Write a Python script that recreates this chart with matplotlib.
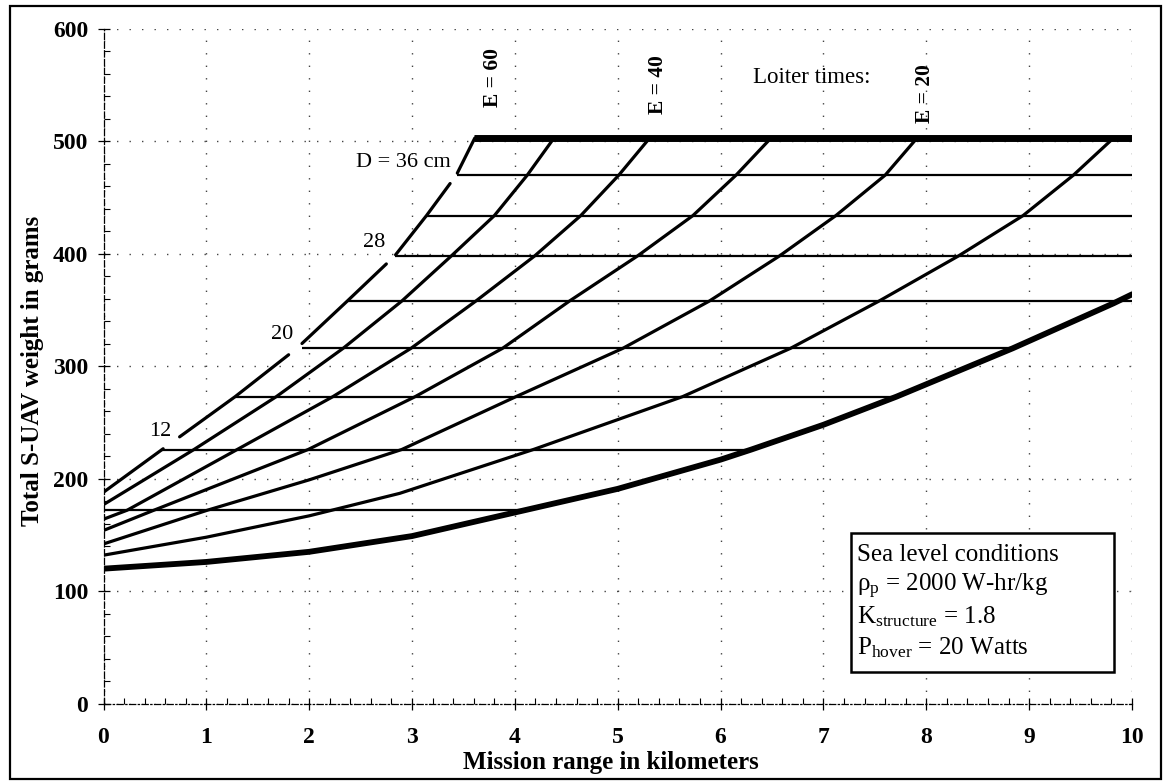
import numpy as np
import matplotlib
matplotlib.use("Agg")
import matplotlib.pyplot as plt
from matplotlib.patches import Rectangle
from matplotlib.ticker import MultipleLocator

plt.rcParams['font.family'] = ['Liberation Serif', 'DejaVu Serif']
plt.rcParams['mathtext.fontset'] = 'custom'
plt.rcParams['mathtext.rm'] = 'Liberation Serif'
plt.rcParams['mathtext.it'] = 'Liberation Serif:italic'

# ---- data ----
# loiter-time curves (E, minutes): mission range (km) vs total weight (g)
e60_range = [0.0, 0.57, 1.28, 1.88, 2.37, 2.83, 3.14, 3.43, 3.61]
e60_weight = [188, 226, 273, 316, 358, 398, 434, 470, 503]
e50_range = [0.0, 0.88, 1.68, 2.33, 2.90, 3.38, 3.80, 4.12, 4.38]
e50_weight = [177, 226, 273, 316, 358, 398, 434, 470, 503]
e40_range = [0.0, 0.23, 1.30, 2.23, 2.99, 3.62, 4.19, 4.64, 5.01, 5.31]
e40_weight = [164, 172, 226, 273, 316, 358, 398, 434, 470, 503]
e30_range = [0.0, 0.49, 1.99, 3.03, 3.88, 4.53, 5.19, 5.73, 6.15, 6.49]
e30_weight = [154, 172, 226, 273, 316, 358, 398, 434, 470, 503]
e20_range = [0.0, 1.01, 2.0, 2.90, 4.01, 5.05, 5.89, 6.57, 7.12, 7.60, 7.91]
e20_weight = [142, 172, 199, 226, 273, 316, 358, 398, 434, 470, 503]
e10_range = [0.0, 1.0, 2.0, 2.22, 2.88, 4.18, 5.63, 6.68, 7.54, 8.31, 8.94, 9.43, 9.82]
e10_weight = [132, 148, 167, 172, 187, 226, 273, 316, 358, 398, 434, 470, 503]
e0_range = [0.0, 1.0, 2.0, 3.0, 4.0, 5.0, 6.0, 6.3, 7.0, 7.71, 8.84, 9.82, 10.0]
e0_weight = [120, 126, 135, 149, 170, 191, 217, 226, 248, 273, 316, 356, 364]

# rotor-diameter lines (D, cm): constant weight between start and end range
d_weight = [172, 226, 273, 316, 358, 398, 434, 470]
d_start = [0.0, 0.57, 1.28, 1.93, 2.37, 2.83, 3.14, 3.44]
d_end = [4.08, 6.3, 7.71, 8.84, 10.0, 10.0, 10.0, 10.0]
cap_weight = 503
cap_start = 3.60
cap_end = 10.0

# label text
d_labels = ["12", "20", "28", "D = 36 cm"]
e_labels = ["E = 60", "E = 40", "E = 20"]
box_lines = ["Sea level conditions",
             "\u03c1$_{\\mathrm{p}}$ = 2000 W-hr/kg",
             "K$_{\\mathrm{structure}}$ = 1.8",
             "P$_{\\mathrm{hover}}$ = 20 Watts"]
x_ticks = list(range(0, 11))
y_ticks = list(range(0, 601, 100))

# ---- figure ----
W, H = 1163, 782
fig = plt.figure(figsize=(W / 100, H / 100), dpi=100)
x0, x1 = 103.5, 1132.0
y0, y1 = 703.6, 29.0
ax = fig.add_axes([x0 / W, 1 - y0 / H, (x1 - x0) / W, (y0 - y1) / H])
ax.set_xlim(0, 10)
ax.set_ylim(0, 600)

# grid & spines
ax.set_axisbelow(True)
ax.grid(True, which='major', linestyle=(0, (1, 8)), color='#444444', lw=1.0)
for s in ('top', 'right'):
    ax.spines[s].set_visible(False)
ax.spines['left'].set_linestyle((0, (5, 2)))
ax.spines['left'].set_linewidth(0.9)
ax.spines['bottom'].set_linestyle((0, (5, 2, 1, 2)))
ax.spines['bottom'].set_linewidth(0.9)

ax.set_xticks(x_ticks)
ax.set_yticks(y_ticks)
ax.xaxis.set_minor_locator(MultipleLocator(0.2))
ax.yaxis.set_minor_locator(MultipleLocator(20))
ax.tick_params(which='major', direction='inout', length=8, width=0.9)
ax.tick_params(which='minor', direction='in', length=4, width=0.8)
ax.tick_params(axis='y', which='major', pad=7)
ax.tick_params(axis='x', which='major', pad=13)
for lab in ax.get_xticklabels() + ax.get_yticklabels():
    lab.set_fontsize(17)
    lab.set_fontweight('bold')

ax.set_ylabel("Total S-UAV weight in grams", fontsize=18, fontweight='bold')
ax.yaxis.set_label_coords(-0.058, 0.493)
ax.set_xlabel("Mission range in kilometers", fontsize=18, fontweight='bold',
              va='center')
ax.xaxis.set_label_coords(0.493, -0.0866)

# D lines
for w, a, b in zip(d_weight, d_start, d_end):
    ax.plot([a, b], [w, w], color='black', lw=1.6, solid_capstyle='butt', zorder=3)
ax.plot([cap_start, cap_end], [cap_weight, cap_weight], color='black', lw=5,
        solid_capstyle='butt', zorder=4)

# E curves
curves = [(e50_range, e50_weight), (e40_range, e40_weight), (e30_range, e30_weight),
          (e20_range, e20_weight), (e10_range, e10_weight)]
for r, w in curves:
    ax.plot(r, w, color='black', lw=2.3, solid_capstyle='round', zorder=4)
ax.plot(e0_range, e0_weight, color='black', lw=4.2, solid_capstyle='round', zorder=4)

# E = 60 boundary curve, broken where the D labels sit
gaps = [(0.58, 0.74), (1.80, 1.93), (2.75, 2.84), (3.37, 3.44)]
r60 = np.array(e60_range)
w60 = np.array(e60_weight, dtype=float)
edges = [r60[0]] + [g for gap in gaps for g in gap] + [r60[-1]]
for a, b in zip(edges[0::2], edges[1::2]):
    xs = np.concatenate([[a], r60[(r60 > a) & (r60 < b)], [b]])
    ax.plot(xs, np.interp(xs, r60, w60), color='black', lw=2.3,
            solid_capstyle='round', zorder=4)

# D labels
d_lab_pos = [(0.555, 242), (1.74, 328), (2.63, 410), (3.38, 481)]
for txt, (x, y) in zip(d_labels, d_lab_pos):
    ha = 'right' if txt.startswith('D') else 'center'
    ax.text(x, y, txt, fontsize=16, ha=ha, va='center', zorder=5)

# E labels
e_lab_pos = [(3.79, 557), (5.39, 551), (7.99, 543)]
for txt, (x, y) in zip(e_labels, e_lab_pos):
    ax.text(x, y, txt, fontsize=15.5, fontweight='bold', rotation=90,
            ha='center', va='center', zorder=5)
ax.text(6.89, 557, "Loiter times:", fontsize=16.5, ha='center', va='center', zorder=5)

# condition box
ax.add_patch(Rectangle((7.27, 28), 9.825 - 7.27, 152 - 28, facecolor='white',
                       edgecolor='black', lw=1.8, zorder=6))
for txt, y in zip(box_lines, [132, 104, 77, 50]):
    ax.text(7.33, y, txt, fontsize=18, ha='left', va='center', zorder=7)

# outer frame
fig.add_artist(Rectangle((10 / W, 3 / H), (1161 - 10) / W, (776 - 3) / H,
                         transform=fig.transFigure, fill=False, lw=1.6,
                         edgecolor='black'))

fig.savefig("out.png", dpi=100)
